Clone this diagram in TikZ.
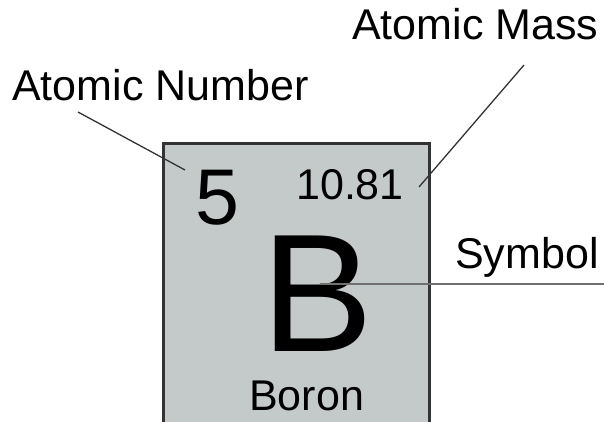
\documentclass[tikz,border=0pt]{standalone}
\usepackage{fontspec}
\setmainfont{Liberation Sans}
\usepackage{xcolor}
\definecolor{cell}{HTML}{C4C9C9}
\definecolor{ink}{HTML}{333333}
\definecolor{rule}{HTML}{707070}
\begin{document}
\begin{tikzpicture}[
  x=1pt, y=-1pt,
  lbl/.style={anchor=base west, inner sep=0pt, font=\fontsize{43}{43}\selectfont},
  big/.style={anchor=base west, inner sep=0pt, font=\fontsize{79}{79}\selectfont},
  sym/.style={anchor=base west, inner sep=0pt, text depth=0pt, font=\fontsize{168}{168}\selectfont},
  lead/.style={draw=ink, line width=1.3pt},
  e/.style={draw=rule, line width=2pt}
]
\useasboundingbox (0,0) rectangle (604,421);
\clip (0,0) rectangle (604,421);
% element cell
\draw[draw=ink, fill=cell, line width=3pt] (163,143) rectangle (429,440);
\node[big] (num) at (195,224) {5};
\node[lbl] (mass) at (296,199) {10.81};
\node[sym] (elem) at (261,351) {B};
\node[lbl] (name) at (249,410) {Boron};
% labels
\node[lbl] (numlbl) at (12,100) {Atomic Number};
\node[lbl] (masslbl) at (352,39) {Atomic Mass};
\node[lbl] (symlbl) at (455,268) {Symbol};
\coordinate (numfrom) at (78,112);
\coordinate (numto) at (185,170);
\coordinate (massfrom) at (524,65);
\coordinate (massto) at (419,187);
\coordinate (symfrom) at (320,284);
\coordinate (symto) at (604,284);
\draw[lead] (numfrom) -- (numto);
\draw[lead] (massfrom) -- (massto);
\draw[e] (symfrom) -- (symto);
\end{tikzpicture}
\end{document}
